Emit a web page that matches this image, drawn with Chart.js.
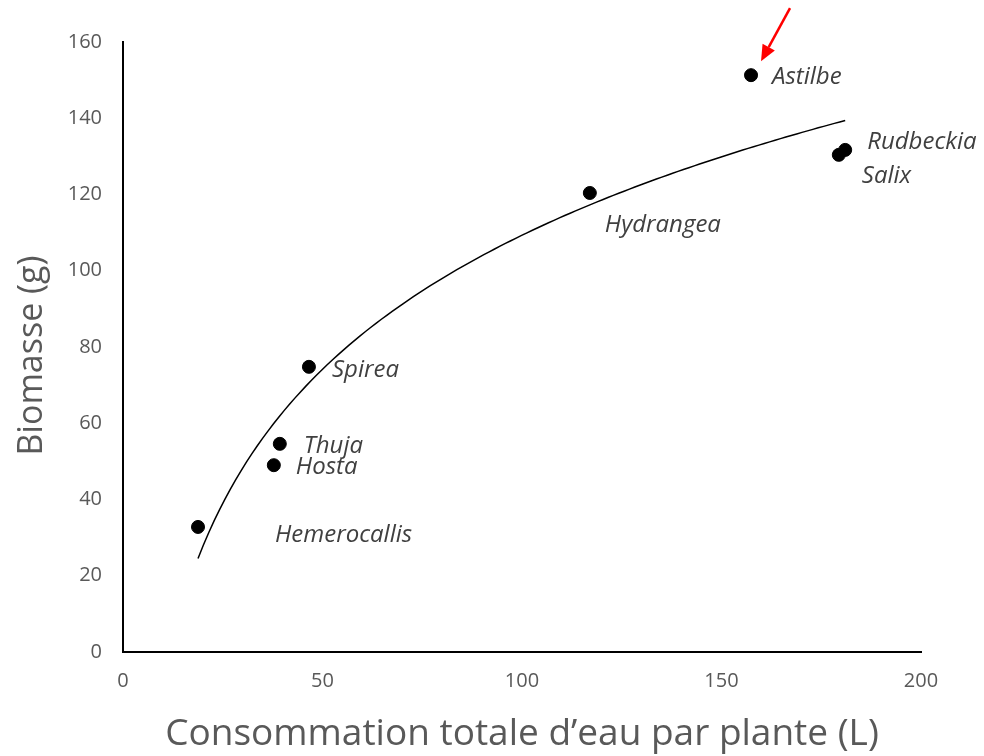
<!DOCTYPE html>
<html>
<head>
<meta charset="utf-8">
<script src="https://cdn.jsdelivr.net/npm/chart.js@4.4.0/dist/chart.umd.min.js"></script>
<style>
  html, body { margin: 0; padding: 0; background: #ffffff; }
  canvas { display: block; }
</style>
</head>
<body>
<canvas id="c" width="984" height="756"></canvas>
<script>
// ---- Data ----
const species = ["Hemerocallis", "Hosta", "Thuja", "Spirea", "Hydrangea", "Astilbe", "Salix", "Rudbeckia"];
const waterUse = [18.8, 37.8, 39.3, 46.6, 117.0, 157.4, 179.4, 181.0];     // L
const biomass  = [32.8, 49.0, 54.6, 74.8, 120.4, 151.3, 130.4, 131.7];    // g
const xTicks = [0, 50, 100, 150, 200];
const yTicks = [0, 20, 40, 60, 80, 100, 120, 140, 160];
const highlighted = "Astilbe";

// Label placement (pixel offsets from each point)
const labelOffsets = {
  Hemerocallis: [77, 8], Hosta: [22, 2], Thuja: [24, 2], Spirea: [23, 3],
  Hydrangea: [15, 32], Astilbe: [21, 2], Salix: [23, 21], Rudbeckia: [22, -8]
};

// Logarithmic trendline (least squares on the data, as a spreadsheet would do)
const lnX = waterUse.map(v => Math.log(v));
const mLn = lnX.reduce((a, b) => a + b, 0) / lnX.length;
const mY = biomass.reduce((a, b) => a + b, 0) / biomass.length;
let sxy = 0, sxx = 0;
lnX.forEach((l, i) => { sxy += (l - mLn) * (biomass[i] - mY); sxx += (l - mLn) * (l - mLn); });
const slope = sxy / sxx, intercept = mY - slope * mLn;
const xMin = Math.min(...waterUse), xMax = Math.max(...waterUse);
const trend = [];
for (let i = 0; i <= 120; i++) {
  const x = xMin + (xMax - xMin) * i / 120;
  trend.push({ x: x, y: slope * Math.log(x) + intercept });
}

const points = waterUse.map((x, i) => ({ x: x, y: biomass[i], name: species[i] }));

const FONT = "'Open Sans', Lato, 'Liberation Sans', sans-serif";

const labelPlugin = {
  id: 'pointLabels',
  afterDatasetsDraw(chart) {
    const ctx = chart.ctx;
    const meta = chart.getDatasetMeta(1);
    ctx.save();
    ctx.font = "italic 24px " + FONT;
    ctx.fillStyle = "#404040";
    ctx.textAlign = "left";
    ctx.textBaseline = "middle";
    meta.data.forEach((el, i) => {
      const name = species[i];
      const off = labelOffsets[name];
      ctx.fillText(name, el.x + off[0], el.y + off[1]);
      if (name === highlighted) {
        // red arrow pointing at the highlighted point
        const tipX = el.x + 10, tipY = el.y - 14;
        const tailX = el.x + 39, tailY = el.y - 67;
        const ang = Math.atan2(tipY - tailY, tipX - tailX);
        const headLen = 16, headW = 7;
        const bx = tipX - headLen * Math.cos(ang), by = tipY - headLen * Math.sin(ang);
        ctx.strokeStyle = "#ff0000";
        ctx.lineWidth = 2.5;
        ctx.beginPath();
        ctx.moveTo(tailX, tailY);
        ctx.lineTo(bx, by);
        ctx.stroke();
        ctx.fillStyle = "#ff0000";
        ctx.beginPath();
        ctx.moveTo(tipX, tipY);
        ctx.lineTo(bx + headW * Math.sin(ang), by - headW * Math.cos(ang));
        ctx.lineTo(bx - headW * Math.sin(ang), by + headW * Math.cos(ang));
        ctx.closePath();
        ctx.fill();
        ctx.fillStyle = "#404040";
      }
    });
    ctx.restore();
  }
};

new Chart(document.getElementById('c'), {
  type: 'scatter',
  data: {
    datasets: [
      {
        label: 'Tendance',
        data: trend,
        showLine: true,
        borderColor: '#000000',
        borderWidth: 1.5,
        pointRadius: 0,
        tension: 0,
        fill: false
      },
      {
        label: 'Espèces',
        data: points,
        backgroundColor: '#000000',
        borderColor: '#000000',
        pointRadius: 6.5,
        pointHoverRadius: 6.5
      }
    ]
  },
  options: {
    responsive: false,
    animation: false,
    layout: { padding: { top: 42, right: 63, left: 0, bottom: 0 } },
    plugins: { legend: { display: false }, tooltip: { enabled: false } },
    scales: {
      x: {
        type: 'linear',
        min: 0, max: 200,
        afterBuildTicks: s => { s.ticks = xTicks.map(v => ({ value: v })); },
        afterFit: s => { s.height = 104; },
        grid: { display: false, drawTicks: false },
        border: { display: true, color: '#000000', width: 2 },
        ticks: { color: '#595959', font: { family: FONT, size: 20 }, padding: 17 },
        title: {
          display: true,
          text: "Consommation totale d\u2019eau par plante (L)",
          color: '#595959',
          font: { family: FONT, size: 37 },
          padding: { top: 0, bottom: -1 }
        }
      },
      y: {
        type: 'linear',
        min: 0, max: 160,
        afterBuildTicks: s => { s.ticks = yTicks.map(v => ({ value: v })); },
        afterFit: s => { s.width = 123; },
        grid: { display: false, drawTicks: false },
        border: { display: true, color: '#000000', width: 2 },
        ticks: { color: '#595959', font: { family: FONT, size: 20 }, padding: 21 },
        title: {
          display: true,
          text: 'Biomasse (g)\u2002',
          color: '#595959',
          font: { family: FONT, size: 34 },
          padding: { top: 12, bottom: 0 }
        }
      }
    }
  },
  plugins: [labelPlugin]
});
</script>
</body>
</html>
